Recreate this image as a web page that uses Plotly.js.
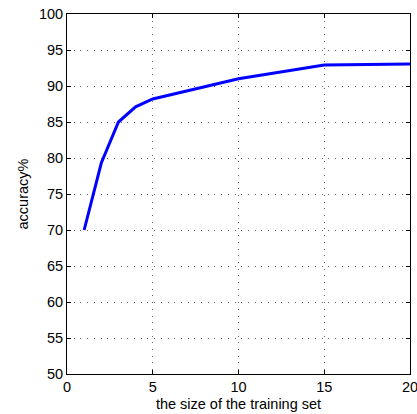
<!DOCTYPE html>
<html>
<head>
<meta charset="utf-8">
<script src="https://cdn.plot.ly/plotly-3.0.1.min.js"></script>
<style>html,body{margin:0;padding:0;background:#fff;}#chart{width:417px;height:414px;}</style>
</head>
<body>
<div id="chart"></div>
<script>
var trainingSize = [1, 2, 3, 4, 5, 10, 15, 20];
var accuracy = [70, 79.3, 85, 87.1, 88.2, 91, 92.9, 93.05];
var xTicks = [0, 5, 10, 15, 20];
var yTicks = [50, 55, 60, 65, 70, 75, 80, 85, 90, 95, 100];

var FONT = 'Liberation Sans, Arial, Helvetica, sans-serif';

var axisCommon = {
  showline: true, linecolor: '#000', linewidth: 1, mirror: 'allticks',
  ticks: 'inside', ticklen: 4, tickcolor: '#000', tickwidth: 1,
  showgrid: true, gridcolor: '#666', griddash: '1px,5.7px', gridwidth: 1,
  zeroline: false, ticklabeloverflow: 'allow',
  tickfont: {family: FONT, size: 14.5, color: '#000'}
};

var trace = {
  x: trainingSize, y: accuracy, type: 'scatter', mode: 'lines',
  line: {color: '#0000FF', width: 3}
};

var layout = {
  width: 417, height: 414,
  margin: {l: 67, r: 7, t: 14, b: 40},
  paper_bgcolor: '#fff', plot_bgcolor: '#fff',
  showlegend: false,
  font: {family: FONT, size: 14.5, color: '#000'},
  xaxis: Object.assign({}, axisCommon, {
    range: [0, 20], tickvals: xTicks, ticktext: xTicks.map(String),
    title: {text: 'the size of the training set', font: {size: 14.5}, standoff: 4}
  }),
  yaxis: Object.assign({}, axisCommon, {
    range: [50, 100], tickvals: yTicks, ticktext: yTicks.map(String),
    title: {text: 'accuracy%', font: {size: 14.5}, standoff: 6}
  })
};

Plotly.newPlot('chart', [trace], layout, {displayModeBar: false, staticPlot: true});
</script>
</body>
</html>
